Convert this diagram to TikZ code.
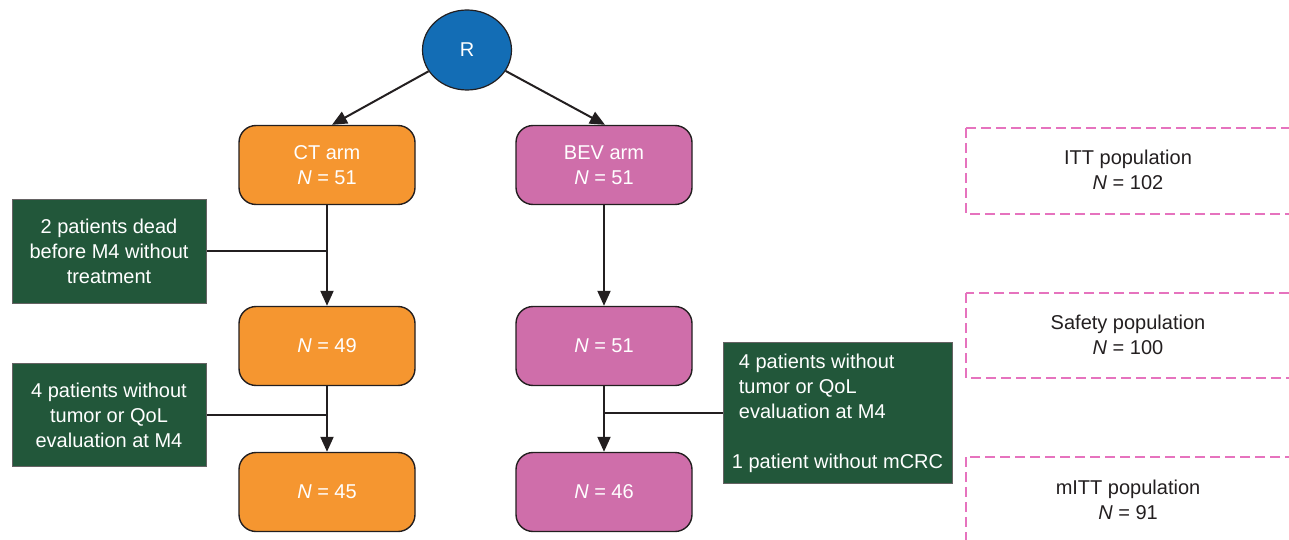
\documentclass[tikz,border=0pt]{standalone}
\usepackage{fontspec}
\setmainfont{Liberation Sans}
\usetikzlibrary{arrows.meta,shapes.geometric}
\definecolor{ctorange}{RGB}{245,150,48}
\definecolor{bevpink}{RGB}{207,110,170}
\definecolor{exgreen}{RGB}{34,87,58}
\definecolor{rblue}{RGB}{19,109,181}
\definecolor{dashpink}{RGB}{230,115,190}
\definecolor{inkc}{RGB}{35,31,32}
\newcommand\myfs{\fontsize{20}{25}\selectfont}
\begin{document}
\begin{tikzpicture}[x=1pt,y=-1pt,
  armbox/.style={draw=inkc, line width=1.4pt, rounded corners=17pt,
    minimum width=176pt, minimum height=79pt, text=white, align=center,
    font=\myfs, inner sep=0pt},
  ctbox/.style={armbox, fill=ctorange},
  bevbox/.style={armbox, fill=bevpink},
  greenbox/.style={draw=inkc!70, line width=1pt, fill=exgreen, text=white,
    font=\myfs, inner sep=0pt},
  popbox/.style={draw=dashpink, line width=1.2pt, dash pattern=on 10pt off 5pt},
  poptext/.style={text=inkc, font=\myfs, align=center},
  arr/.style={draw=inkc, line width=2pt, -{Triangle[length=15pt,width=13pt]}},
  plain/.style={draw=inkc, line width=2pt}]
\useasboundingbox (0,0) rectangle (1289,540);
\clip (0,0) rectangle (1289,540);

% randomisation
\node[ellipse, draw=inkc, line width=1.2pt, fill=rblue, text=white, font=\myfs,
  minimum width=89pt, minimum height=80pt, inner sep=0pt] (R) at (467,50) {R};

% CT arm
\node[ctbox] (ct) at (327,165) {CT arm\\\textit{N} = 51};
\node[ctbox] (ct49) at (327,346) {\textit{N} = 49};
\node[ctbox] (ct45) at (327,492) {\textit{N} = 45};

% BEV arm
\node[bevbox] (bev) at (604,165) {BEV arm\\\textit{N} = 51};
\node[bevbox] (bev51) at (604,346) {\textit{N} = 51};
\node[bevbox] (bev46) at (604,492) {\textit{N} = 46};

% exclusion boxes
\node[greenbox, minimum width=194pt, minimum height=104pt, align=center] (g1) at (109,251)
  {2 patients dead\\before M4 without\\treatment};
\node[greenbox, minimum width=194pt, minimum height=103pt, align=center] (g2) at (109,415)
  {4 patients without\\tumor or QoL\\evaluation at M4};
\node[greenbox, minimum width=229pt, minimum height=141pt, align=left] (g3) at (837.5,413)
  {\hspace*{7pt}4 patients without\\\hspace*{7pt}tumor or QoL\\\hspace*{7pt}evaluation at M4\\[25pt]1 patient without mCRC};

% populations
\draw[popbox] (966,128) rectangle (1290,214);
\node[poptext] (itt) at (1128,170) {ITT population\\\textit{N} = 102};
\draw[popbox] (966,293) rectangle (1290,378);
\node[poptext] (saf) at (1128,335) {Safety population\\\textit{N} = 100};
\draw[popbox] (966,457) rectangle (1290,545);
\node[poptext] (mitt) at (1128,500) {mITT population\\\textit{N} = 91};

% connectors
\draw[arr] (R) -- ([xshift=5pt]ct.north);
\draw[arr] (R) -- ([xshift=1pt]bev.north);
\draw[arr] (ct.south) -- (ct49.north);
\draw[arr] (ct49.south) -- (ct45.north);
\draw[arr] (bev.south) -- (bev51.north);
\draw[arr] (bev51.south) -- (bev46.north);
\draw[plain] (g1.east) -- (g1.east -| ct.south);
\draw[plain] (g2.east) -- (g2.east -| ct49.south);
\draw[plain] (g3.west) -- (g3.west -| bev51.south);
\end{tikzpicture}
\end{document}
